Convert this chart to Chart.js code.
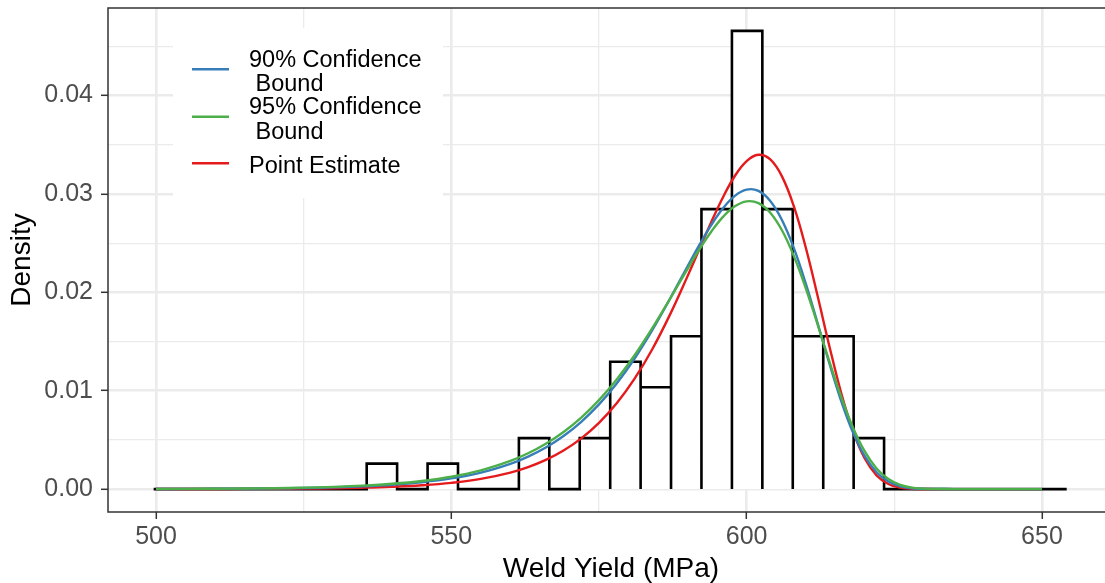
<!DOCTYPE html>
<html>
<head>
<meta charset="utf-8">
<script src="https://cdn.jsdelivr.net/npm/chart.js@4.4.0/dist/chart.umd.min.js"></script>
<style>
  html, body { margin: 0; padding: 0; background: #ffffff; overflow: hidden; }
  /* the panel runs a few pixels past the right edge of the picture */
  #wrap { width: 1105px; height: 583px; overflow: hidden; }
</style>
</head>
<body>
<div id="wrap"><canvas id="chart" width="1114" height="583"></canvas></div>
<script>
// ===== data =====
// histogram: 30 bins, edges in MPa, heights as density
const binEdges = [
  499.60, 504.75, 509.91, 515.06, 520.21, 525.37, 530.52, 535.67, 540.82, 545.98,
  551.13, 556.28, 561.44, 566.59, 571.74, 576.90, 582.05, 587.20, 592.35, 597.51,
  602.66, 607.81, 612.97, 618.12, 623.27, 628.43, 633.58, 638.73, 643.88, 649.04, 654.19
];
const binDensity = [
  0, 0, 0, 0, 0, 0, 0, 0.00259, 0, 0.00259,
  0, 0, 0.00518, 0, 0.00518, 0.01294, 0.01035, 0.01553, 0.02846, 0.04658,
  0.02846, 0.01553, 0.01553, 0.00518, 0, 0, 0, 0, 0, 0
];

// fitted density curves
const curveX = [
  500, 505, 510, 515, 520, 525, 530, 535, 540, 545, 550, 555, 560, 563, 566, 569,
  572, 575, 578, 581, 584, 587, 590, 592, 594, 596, 598, 600, 602, 604, 606, 608,
  610, 612, 614, 616, 618, 620, 622, 624, 626, 628, 630, 635, 640, 650
];
const bound90 = [
  0.0000105, 0.0000171, 0.0000276, 0.0000444, 0.0000711, 0.0001134, 0.000180, 0.000284,
  0.000447, 0.000699, 0.001086, 0.001678, 0.002571, 0.003307, 0.004235, 0.005399,
  0.006842, 0.008610, 0.010739, 0.013253, 0.016136, 0.019321, 0.022650, 0.024824,
  0.026834, 0.028546, 0.029804, 0.030444, 0.030313, 0.029294, 0.027336, 0.024490,
  0.020919, 0.016898, 0.012796, 0.008979, 0.005764, 0.003342, 0.001714, 0.000765,
  0.000290, 0.0000907, 0.0000228, 0.0000003, 0, 0
];
const bound95 = [
  0.0000148, 0.0000235, 0.0000373, 0.0000588, 0.0000924, 0.0001445, 0.000225, 0.000349,
  0.000538, 0.000825, 0.001258, 0.001907, 0.002866, 0.003643, 0.004611, 0.005809,
  0.007273, 0.009040, 0.011140, 0.013579, 0.016334, 0.019322, 0.022394, 0.024367,
  0.026166, 0.027670, 0.028745, 0.029252, 0.029067, 0.028090, 0.026283, 0.023685,
  0.020441, 0.016768, 0.012981, 0.009385, 0.006274, 0.003827, 0.002100, 0.001019,
  0.000430, 0.000154, 0.0000456, 0.0000008, 0, 0
];
const pointEst = [
  0.0000035, 0.0000060, 0.0000103, 0.0000176, 0.0000298, 0.0000503, 0.0000844, 0.000141,
  0.000234, 0.000387, 0.000635, 0.001037, 0.001682, 0.002239, 0.002970, 0.003923,
  0.005155, 0.006732, 0.008724, 0.011196, 0.014192, 0.017708, 0.021650, 0.024405,
  0.027135, 0.029675, 0.031826, 0.033347, 0.033984, 0.033510, 0.031768, 0.028736,
  0.024580, 0.019672, 0.014554, 0.009797, 0.005894, 0.003108, 0.001399, 0.000522,
  0.000156, 0.0000355, 0.0000060, 0, 0, 0
];

const seriesNames = ["90% Confidence\n Bound", "95% Confidence\n Bound", "Point Estimate"];
const seriesColors = ["#377EB8", "#4DAF4A", "#E41A1C"];

const xTicks = [500, 525, 550, 575, 600, 625, 650];
const yTicks = [0, 0.005, 0.01, 0.015, 0.02, 0.025, 0.03, 0.035, 0.04, 0.045];

const FONT = '"Liberation Sans", Arial, sans-serif';

// ===== build datasets =====
const histPoints = [];
binDensity.forEach((h, i) => {
  const l = binEdges[i], r = binEdges[i + 1];
  histPoints.push({ x: l, y: 0 }, { x: l, y: h }, { x: r, y: h }, { x: r, y: 0 });
});

const toXY = (ys) => ys.map((y, i) => ({ x: curveX[i], y }));

function curve(label, ys, color, order) {
  return {
    label,
    data: toXY(ys),
    borderColor: color,
    borderWidth: 2.4,
    pointRadius: 0,
    tension: 0.4,
    fill: false,
    order,
  };
}

const isMajorX = (v) => Math.abs(v % 50) < 1e-6;
const isMajorY = (v) => Math.abs(v * 100 - Math.round(v * 100)) < 1e-6;

// ===== plugins =====
// legend sits inside the panel, top-left, on a white box
const legendBox = {
  id: "legendBox",
  afterDatasetsDraw(chart) {
    const { ctx, chartArea: a } = chart;
    ctx.save();
    ctx.fillStyle = "#ffffff";
    ctx.fillRect(a.left + 65, a.top + 20, 270, 170);
    const keyY = [61.3, 108.7, 155.3];
    ctx.font = "23.5px " + FONT;
    ctx.textBaseline = "alphabetic";
    ctx.textAlign = "left";
    seriesNames.forEach((name, i) => {
      const y = a.top + keyY[i];
      ctx.strokeStyle = seriesColors[i];
      ctx.lineWidth = 2.4;
      ctx.beginPath();
      ctx.moveTo(a.left + 84, y);
      ctx.lineTo(a.left + 121, y);
      ctx.stroke();
      const lines = name.split("\n");
      ctx.fillStyle = "#000000";
      lines.forEach((t, j) => {
        const cy = y + 1.4 + (j - (lines.length - 1) / 2) * 24.6;
        ctx.fillText(t, a.left + 141, cy + 8.4);
      });
    });
    // panel border on top
    ctx.strokeStyle = "#333333";
    ctx.lineWidth = 1.5;
    ctx.strokeRect(a.left, a.top, a.right - a.left, a.bottom - a.top);
    ctx.restore();
  },
};

// ===== chart =====
new Chart(document.getElementById("chart"), {
  type: "line",
  data: {
    datasets: [
      curve(seriesNames[1], bound95, seriesColors[1], 1),
      curve(seriesNames[0], bound90, seriesColors[0], 2),
      curve(seriesNames[2], pointEst, seriesColors[2], 3),
      {
        label: "hist",
        data: histPoints,
        borderColor: "#000000",
        borderWidth: 2.6,
        backgroundColor: "#ffffff",
        fill: "origin",
        pointRadius: 0,
        tension: 0,
        borderJoinStyle: "miter",
        order: 4,
      },
    ],
  },
  options: {
    responsive: false,
    devicePixelRatio: 1,
    animation: false,
    events: [],
    layout: { padding: { top: 8, right: 0, left: 0, bottom: 0 } },
    plugins: {
      legend: { display: false },
      tooltip: { enabled: false },
    },
    scales: {
      x: {
        type: "linear",
        min: 491.87,
        max: 662.2,
        afterBuildTicks: (s) => { s.ticks = xTicks.map((v) => ({ value: v })); },
        afterFit: (s) => {
          s.height = 71;
          s.paddingLeft = 0; s.paddingRight = 0; s.paddingTop = 0; s.paddingBottom = 0;
        },
        border: { display: false },
        grid: {
          color: "#EBEBEB",
          lineWidth: (c) => (c.tick && isMajorX(c.tick.value) ? 2.6 : 1.3),
          tickColor: (c) => (c.tick && isMajorX(c.tick.value) ? "#333333" : "rgba(0,0,0,0)"),
          tickWidth: 1.5,
          tickLength: 7,
        },
        ticks: {
          autoSkip: false,
          maxRotation: 0,
          padding: 3,
          color: "#4D4D4D",
          font: { size: 25, family: FONT },
          callback: (v) => (isMajorX(v) ? String(v) : ""),
        },
        title: {
          display: true,
          text: "Weld Yield (MPa)",
          color: "#000000",
          font: { size: 28, family: FONT, lineHeight: 1 },
          padding: { top: 0, bottom: 0 },
        },
      },
      y: {
        type: "linear",
        min: -0.002329,
        max: 0.048906,
        afterBuildTicks: (s) => { s.ticks = yTicks.map((v) => ({ value: v })); },
        afterFit: (s) => {
          s.width = 108;
          s.paddingLeft = 0; s.paddingRight = 0; s.paddingTop = 0; s.paddingBottom = 0;
        },
        border: { display: false },
        grid: {
          color: "#EBEBEB",
          lineWidth: (c) => (c.tick && isMajorY(c.tick.value) ? 2.6 : 1.3),
          tickColor: (c) => (c.tick && isMajorY(c.tick.value) ? "#333333" : "rgba(0,0,0,0)"),
          tickWidth: 1.5,
          tickLength: 7,
        },
        ticks: {
          autoSkip: false,
          padding: 8,
          color: "#4D4D4D",
          font: { size: 25, family: FONT },
          callback: (v) => (isMajorY(v) ? v.toFixed(2) : ""),
        },
        title: {
          display: true,
          text: "Density",
          color: "#000000",
          font: { size: 28, family: FONT, lineHeight: 1 },
          padding: { top: 8.5, bottom: 0 },
        },
      },
    },
  },
  plugins: [legendBox],
});
</script>
</body>
</html>
